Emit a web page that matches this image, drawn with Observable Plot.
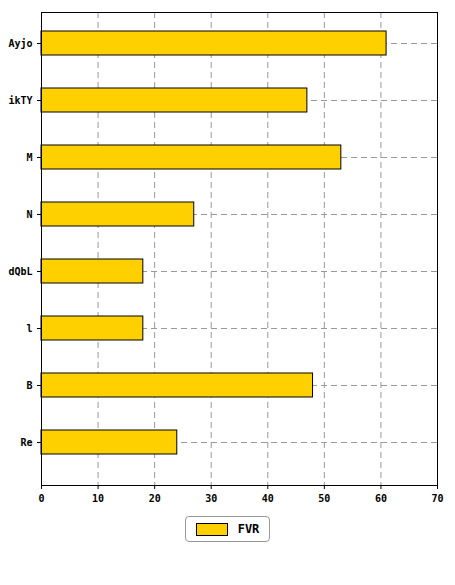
<!DOCTYPE html>
<html><head><meta charset="utf-8">
<script src="https://cdn.jsdelivr.net/npm/d3@7"></script>
<script src="https://cdn.jsdelivr.net/npm/@observablehq/plot@0.6"></script>
<style>
body{margin:0;background:#fff;font-family:"DejaVu Sans Mono",monospace;}
#legend{display:flex;justify-content:center;margin-top:6px;}
#legend .box{border:1px solid #999;border-radius:4px;padding:5px 10px;display:flex;align-items:center;gap:10px;font-size:12px;font-weight:bold;}
#legend .sw{width:30px;height:11px;background:#FFD000;border:1px solid #000;}
</style></head>
<body>
<div id="chart"></div>
<div id="legend"><div class="box"><span class="sw"></span><span>FVR</span></div></div>
<script>
const categories = ["Ayjo", "ikTY", "M", "N", "dQbL", "l", "B", "Re"];
const values = [61, 47, 53, 27, 18, 18, 48, 24];
const ticks = [0, 10, 20, 30, 40, 50, 60, 70];
const data = categories.map((c, i) => ({ cat: c, v: values[i] }));

const chart = Plot.plot({
  width: 455,
  height: 510,
  marginLeft: 41,
  marginRight: 18,
  marginTop: 12,
  marginBottom: 25,
  style: { fontFamily: "DejaVu Sans Mono", fontSize: "10px", fontWeight: "bold", color: "#000" },
  x: { domain: [0, 70], ticks: ticks, label: null, tickSize: 4 },
  y: { domain: categories, paddingInner: 0.58, paddingOuter: 0.21, range: [15.7, 469.3], label: null, tickSize: 4 },
  marks: [
    Plot.gridX(ticks, { stroke: "#999", strokeOpacity: 1, strokeDasharray: "6 4" }),
    Plot.gridY(categories, { stroke: "#999", strokeOpacity: 1, strokeDasharray: "6 4" }),
    Plot.barX(data, { x: "v", y: "cat", fill: "#FFD000", stroke: "#000", strokeWidth: 1 }),
    Plot.frame({ stroke: "#000" })
  ]
});
document.getElementById("chart").appendChild(chart);
</script>
</body></html>
